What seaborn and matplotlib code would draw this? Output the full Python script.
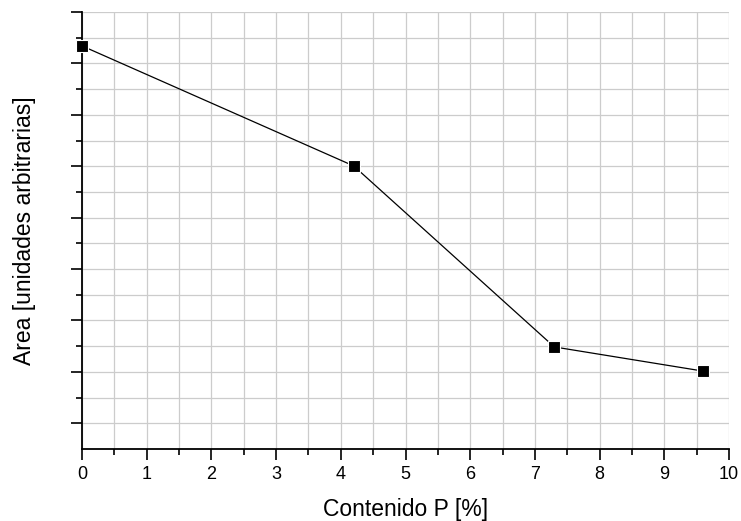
import matplotlib
matplotlib.use("Agg")
import matplotlib.pyplot as plt
import seaborn as sns
import pandas as pd
from matplotlib.ticker import MultipleLocator, NullFormatter

contenido_p = [0.0, 4.2, 7.3, 9.6]
area = [15.68, 11.01, 3.97, 3.03]

sns.set_style("white")
plt.rcParams['font.family'] = ['Liberation Sans', 'DejaVu Sans']
plt.rcParams['text.color'] = 'black'
plt.rcParams['axes.labelcolor'] = 'black'

df = pd.DataFrame({"x": contenido_p, "y": area})

fig = plt.figure(figsize=(7.41, 5.21), dpi=100)
ax = fig.add_axes([0.1107, 0.1382, 0.9838 - 0.1107, 0.977 - 0.1382])

sns.lineplot(data=df, x="x", y="y", ax=ax, color="black", linewidth=0.9,
             marker="s", markersize=8, markerfacecolor="black",
             markeredgecolor="white", markeredgewidth=0.8, zorder=3,
             clip_on=False)

ax.set_xlim(0, 10)
ax.set_ylim(0, 17)
ax.xaxis.set_major_locator(MultipleLocator(1))
ax.xaxis.set_minor_locator(MultipleLocator(0.5))
ax.set_yticks([1, 3, 5, 7, 9, 11, 13, 15, 17])
ax.set_yticks([2, 4, 6, 8, 10, 12, 14, 16], minor=True)
ax.yaxis.set_major_formatter(NullFormatter())

ax.grid(True, which="both", color="#cccccc", linewidth=0.9, zorder=0)
ax.set_axisbelow(True)

for s in ["top", "right"]:
    ax.spines[s].set_visible(False)
for s in ["left", "bottom"]:
    ax.spines[s].set_color("black")
    ax.spines[s].set_linewidth(1.3)

ax.tick_params(which="major", direction="out", length=8, width=1.2, color="black",
               labelsize=13, labelcolor="black", pad=4, bottom=True, left=True)
ax.tick_params(which="minor", direction="out", length=4, width=1.2, color="black",
               bottom=True, left=True)

ax.set_xlabel("Contenido P [%]", fontsize=16.5, labelpad=11, color="black")
ax.set_ylabel("Area [unidades arbitrarias]", fontsize=16.5, labelpad=21, color="black")

fig.savefig("out.png", dpi=100)
